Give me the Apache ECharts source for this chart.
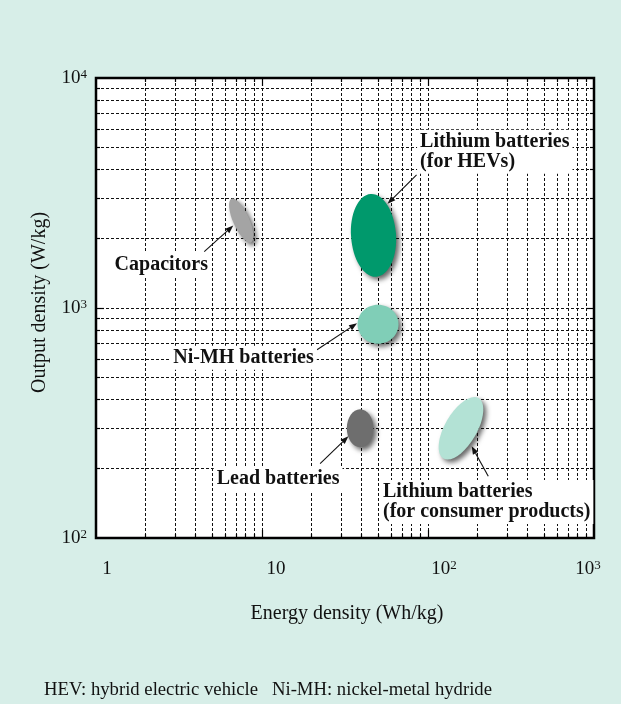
<!DOCTYPE html>
<html><head><meta charset="utf-8">
<script src="https://cdn.jsdelivr.net/npm/echarts@6.0.0/dist/echarts.min.js"></script>
<style>html,body{margin:0;padding:0;background:#d7eee8}#c{width:621px;height:704px}</style>
</head><body><div id="c"></div>
<script>
// ---------- data ----------
const technologies = ['Capacitors', 'Lithium batteries (for HEVs)', 'Ni-MH batteries', 'Lead batteries', 'Lithium batteries (for consumer products)'];
const labelLines = [['Capacitors'], ['Lithium batteries', '(for HEVs)'], ['Ni-MH batteries'], ['Lead batteries'], ['Lithium batteries', '(for consumer products)']];
const energyDensity = [7.5, 47, 50, 39, 158];      // Wh/kg (region centre)
const outputDensity = [2400, 2070, 850, 300, 300]; // W/kg (region centre)
const xTickValues = [1, 10, 100, 1000];
const xTickLabels = [['1', ''], ['10', ''], ['10', '2'], ['10', '3']];
const yTickValues = [100, 1000, 10000];
const yTickLabels = [['10', '2'], ['10', '3'], ['10', '4']];
const xGridValues = [2, 3, 4, 5, 6, 7, 8, 9, 10, 20, 30, 40, 50, 60, 70, 80, 90, 100, 200, 300, 400, 500, 600, 700, 800, 900];
const xGridMajor  = [10, 100];
const yGridValues = [200, 300, 400, 500, 600, 700, 800, 900, 1000, 2000, 3000, 4000, 5000, 6000, 7000, 8000, 9000];
const yGridMajor  = [1000];
const xAxisTitle = 'Energy density (Wh/kg)';
const yAxisTitle = 'Output density (W/kg)';
const footnote = 'HEV: hybrid electric vehicle   Ni-MH: nickel-metal hydride';

// ---------- styles ----------
const SERIF = '"Liberation Serif", "Times New Roman", serif';
const shapeStyles = [
  { rx: 8,    ry: 24,   rot: 24,  fill: '#a4a4a4', lab: { dx: -80,  dy: 44,   align: 'center' }, arrow: [-37, 31, -8, 5] },
  { rx: 22.5, ry: 41.5, rot: 4,   fill: '#00996c', lab: { dx: 43.5, dy: -83.5, align: 'left' },  arrow: [43, -60.5, 14, -31.5] },
  { rx: 20.5, ry: 19.5, rot: 0,   fill: '#80ceb7', lab: { dx: -134.5, dy: 33.5, align: 'center' }, arrow: [-61, 25.5, -21, -1] },
  { rx: 13.3, ry: 19,   rot: 0,   fill: '#6e6e6e', lab: { dx: -82,  dy: 51,   align: 'center' }, arrow: [-40, 35.3, -11.7, 8] },
  { rx: 16,   ry: 35,   rot: -30, fill: '#b3e2d5', lab: { dx: -81,  dy: 73.7, align: 'left' },  arrow: [27.3, 48, 10.7, 18] }
];
const xLabelShift = [11, 14, 16, -6];

function tickIndex(vals, v) {
  let best = 0, bd = Infinity;
  vals.forEach((t, i) => { const d = Math.abs(Math.log10(t) - Math.log10(v)); if (d < bd) { bd = d; best = i; } });
  return best;
}
const richBase = {
  b: { fontSize: 19, fontFamily: SERIF, color: '#111', lineHeight: 20, verticalAlign: 'bottom' },
  s: { fontSize: 13, fontFamily: SERIF, color: '#111', lineHeight: 13, verticalAlign: 'bottom', padding: [0, 0, 7, 0] }
};
const xRich = Object.assign({}, richBase);
xLabelShift.forEach((sh, i) => {
  xRich['b' + i] = Object.assign({}, richBase.b, { padding: [0, 0, 0, sh > 0 ? sh * 2 : 0] });
  xRich['s' + i] = Object.assign({}, richBase.s, { padding: [0, sh < 0 ? -sh * 2 : 0, 7, 0] });
  xRich['e' + i] = Object.assign({}, richBase.b, { padding: [0, sh < 0 ? -sh * 2 : 0, 0, 0], fontSize: 1, lineHeight: 20 });
});

const chart = echarts.init(document.getElementById('c'), null, { renderer: 'canvas' });

function crisp(v) { return Math.round(v - 0.5) + 0.5; }

const option = {
  backgroundColor: '#d7eee8',
  animation: false,
  grid: { left: 96, right: 27, top: 78, bottom: 166, show: true, backgroundColor: '#ffffff', borderColor: '#000', borderWidth: 2.5 },
  xAxis: {
    type: 'log', logBase: 10, min: 1, max: 1000,
    axisLine: { show: false }, axisTick: { show: false }, splitLine: { show: false },
    axisLabel: {
      margin: 21,
      formatter: v => {
        const i = tickIndex(xTickValues, v);
        const [b, s] = xTickLabels[i];
        return s ? '{b' + i + '|' + b + '}{s' + i + '|' + s + '}' : '{b' + i + '|' + b + '}{e' + i + '| }';
      },
      rich: xRich
    }
  },
  yAxis: {
    type: 'log', logBase: 10, min: 100, max: 10000,
    axisLine: { show: false }, axisTick: { show: false }, splitLine: { show: false },
    axisLabel: {
      margin: 9,
      formatter: v => {
        const [b, s] = yTickLabels[tickIndex(yTickValues, v)];
        return '{b|' + b + '}{s|' + s + '}';
      },
      rich: richBase
    }
  },
  graphic: [
    { type: 'text', x: 40, y: 302.5, rotation: Math.PI / 2, style: { text: yAxisTitle, font: '20px ' + SERIF, fill: '#111', align: 'center', verticalAlign: 'middle' } },
    { type: 'text', x: 347, y: 614, style: { text: xAxisTitle, font: '20px ' + SERIF, fill: '#111', align: 'center', verticalAlign: 'middle' } },
    { type: 'text', x: 44, y: 690, style: { text: footnote, font: '18.7px ' + SERIF, fill: '#111', align: 'left', verticalAlign: 'middle' } }
  ],
  series: [
    { // vertical grid lines + ticks
      type: 'custom', z: 1, silent: true,
      data: xGridValues.map(v => [v, 1000, xGridMajor.includes(v) ? 1 : 0]),
      renderItem: (params, api) => {
        const cs = params.coordSys;
        const x = crisp(api.coord([api.value(0), api.value(1)])[0]);
        const len = api.value(2) ? 8 : 4;
        const top = cs.y, bot = cs.y + cs.height;
        return { type: 'group', children: [
          { type: 'line', shape: { x1: x, y1: top, x2: x, y2: bot }, style: { stroke: '#111', lineWidth: 1, lineDash: [3, 2] } },
          { type: 'line', shape: { x1: x, y1: top, x2: x, y2: top + len }, style: { stroke: '#000', lineWidth: 1.2 } },
          { type: 'line', shape: { x1: x, y1: bot, x2: x, y2: bot - len }, style: { stroke: '#000', lineWidth: 1.2 } }
        ] };
      }
    },
    { // horizontal grid lines + ticks
      type: 'custom', z: 1, silent: true,
      data: yGridValues.map(v => [10, v, yGridMajor.includes(v) ? 1 : 0]),
      renderItem: (params, api) => {
        const cs = params.coordSys;
        const y = crisp(api.coord([api.value(0), api.value(1)])[1]);
        const len = api.value(2) ? 8 : 4;
        const l = cs.x, r = cs.x + cs.width;
        return { type: 'group', children: [
          { type: 'line', shape: { x1: l, y1: y, x2: r, y2: y }, style: { stroke: '#111', lineWidth: 1, lineDash: [3, 2] } },
          { type: 'line', shape: { x1: l, y1: y, x2: l + len, y2: y }, style: { stroke: '#000', lineWidth: 1.2 } },
          { type: 'line', shape: { x1: r, y1: y, x2: r - len, y2: y }, style: { stroke: '#000', lineWidth: 1.2 } }
        ] };
      }
    },
    { // technology regions
      type: 'custom', name: 'regions', z: 3,
      data: energyDensity.map((e, i) => ({ name: technologies[i], value: [e, outputDensity[i], i] })),
      renderItem: (params, api) => {
        const p = api.coord([api.value(0), api.value(1)]);
        const s = shapeStyles[api.value(2)];
        return {
          type: 'ellipse', x: p[0], y: p[1], rotation: s.rot * Math.PI / 180,
          shape: { cx: 0, cy: 0, rx: s.rx, ry: s.ry },
          style: { fill: s.fill, shadowBlur: 5, shadowOffsetX: 3, shadowOffsetY: 3, shadowColor: 'rgba(0,0,0,0.6)' }
        };
      }
    },
    { // annotations
      type: 'custom', name: 'labels', z: 4, silent: true,
      data: energyDensity.map((e, i) => [e, outputDensity[i], i]),
      renderItem: (params, api) => {
        const p = api.coord([api.value(0), api.value(1)]);
        const i = api.value(2);
        const s = shapeStyles[i];
        const [sx, sy, ex, ey] = s.arrow;
        const x1 = p[0] + sx, y1 = p[1] + sy, x2 = p[0] + ex, y2 = p[1] + ey;
        const ang = Math.atan2(y2 - y1, x2 - x1);
        const L = 8, W = 3;
        const bx = x2 - L * Math.cos(ang), by = y2 - L * Math.sin(ang);
        const nx = -Math.sin(ang) * W, ny = Math.cos(ang) * W;
        return { type: 'group', children: [
          { type: 'line', shape: { x1: x1, y1: y1, x2: bx, y2: by }, style: { stroke: '#111', lineWidth: 1.1 } },
          { type: 'polygon', shape: { points: [[x2, y2], [bx + nx, by + ny], [bx - nx, by - ny]] }, style: { fill: '#111' } },
          { type: 'text', x: p[0] + s.lab.dx, y: p[1] + s.lab.dy,
            style: { text: labelLines[i].join('\n'), font: 'bold 20px ' + SERIF, fill: '#111',
              align: s.lab.align, verticalAlign: 'middle', lineHeight: 20,
              backgroundColor: '#ffffff', padding: [2, 3, 2, 3] } }
        ] };
      }
    }
  ]
};
chart.setOption(option);
</script></body></html>
